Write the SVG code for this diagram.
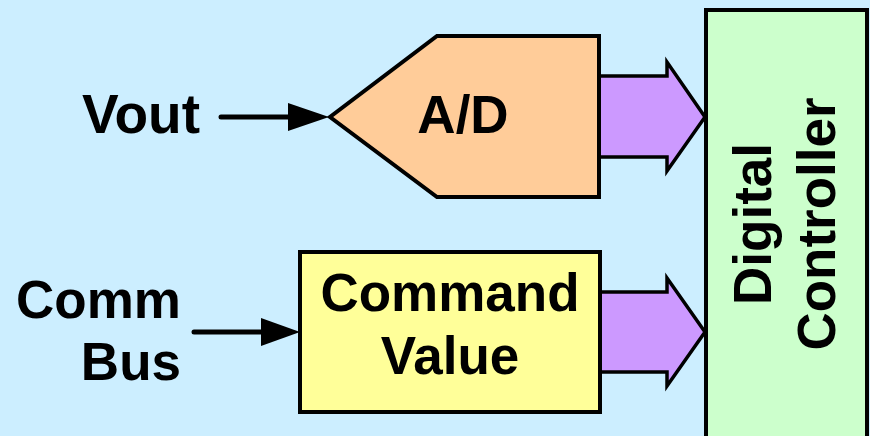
<svg xmlns="http://www.w3.org/2000/svg" width="870" height="436" viewBox="0 0 870 436">
  <defs>
    <style>
      .lbl { font-family: "Liberation Sans", Arial, sans-serif; font-weight: bold; font-size: 53px; fill: #000; }
      .box { stroke: #000; stroke-width: 4; stroke-linejoin: miter; }
      .bus { fill: #cc99ff; stroke: #000; stroke-width: 3.5; stroke-linejoin: miter; }
      .wire { stroke: #000; stroke-width: 5; stroke-linecap: round; fill: none; }
    </style>
  </defs>
  <rect width="870" height="436" fill="#cceeff"/>

  <g id="digital-controller">
    <rect class="box" x="706" y="10" width="161" height="440" fill="#ccffcc"/>
    <text class="lbl" text-anchor="middle" transform="translate(771,224) rotate(-90)">Digital</text>
    <text class="lbl" text-anchor="middle" transform="translate(835,224) rotate(-90)">Controller</text>
  </g>

  <g id="connectors">
    <!-- bus arrows into the controller -->
    <polygon class="bus" points="597,76 667,76 667,62 705,117 667,171 667,157 597,157"/>
    <polygon class="bus" points="598,292 667,292 667,278 705,332 667,386 667,372 598,372"/>
    <!-- input signals -->
    <line class="wire" x1="221" y1="117" x2="292" y2="117"/>
    <polygon points="288,103 329,117 288,131" fill="#000"/>
    <line class="wire" x1="194" y1="332" x2="264" y2="332"/>
    <polygon points="261,318 300,332 261,346" fill="#000"/>
  </g>

  <g id="adc">
    <polygon class="box" points="437,36 599,36 599,197 437,197 330,117" fill="#ffcc99"/>
    <text class="lbl" x="463" y="133" text-anchor="middle">A/D</text>
  </g>

  <g id="command-value">
    <rect class="box" x="300" y="252" width="300" height="160" fill="#ffff99"/>
    <text class="lbl" x="450" y="311" text-anchor="middle">Command</text>
    <text class="lbl" x="450" y="374" text-anchor="middle">Value</text>
  </g>

  <g id="vout">
    <text class="lbl" x="200" y="133" text-anchor="end" style="font-size:55px">Vout</text>
  </g>

  <g id="comm-bus">
    <text class="lbl" x="181" y="318" text-anchor="end">Comm</text>
    <text class="lbl" x="181" y="380" text-anchor="end">Bus</text>
  </g>
</svg>
